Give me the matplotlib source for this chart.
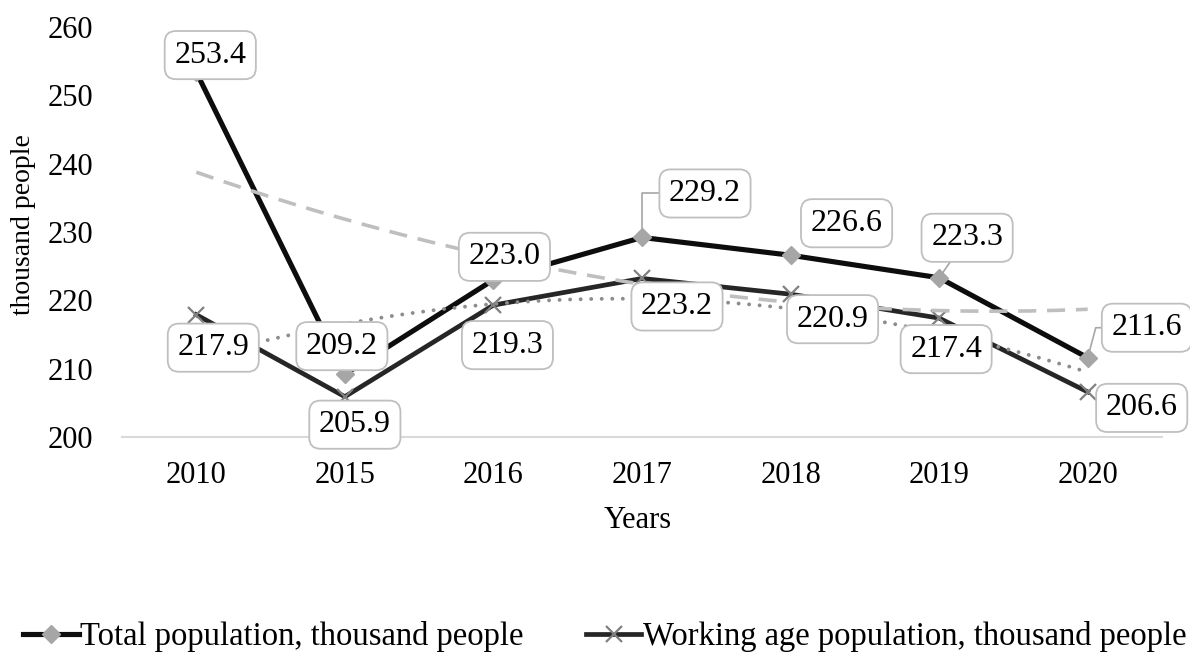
import numpy as np
import matplotlib
matplotlib.use('Agg')
import matplotlib.pyplot as plt

# ---- data ----
years = ['2010', '2015', '2016', '2017', '2018', '2019', '2020']
total = [253.4, 209.2, 223.0, 229.2, 226.6, 223.3, 211.6]
working = [217.9, 205.9, 219.3, 223.2, 220.9, 217.4, 206.6]
y_ticks = [200, 210, 220, 230, 240, 250, 260]
total_name = 'Total population, thousand people'
working_name = 'Working age population, thousand people'

# ---- label placement (pixel offsets from the point) ----
tot_off = [(14, 17), (-3, 28), (11, 23), (63, 44), (56, 32), (28, 40), (59, 30)]
wrk_off = [(17, -33), (10, -28), (14, -40), (35, -28), (42, -25), (7, -31), (54, -16)]
tot_leader = ['', '', '', 'angle,angleA=0,angleB=90,rad=0', '', 'arc3',
              'angle,angleA=0,angleB=75,rad=0']
wrk_leader = ['', '', '', '', '', '', '']

plt.rcParams['font.family'] = ['Liberation Serif', 'DejaVu Serif']

W, H = 1190, 659
fig = plt.figure(figsize=(W / 100, H / 100), dpi=100)
ax = fig.add_axes([122 / W, 1 - 437 / H, 1040 / W, 410 / H])

x = np.arange(len(years))
l1, = ax.plot(x, total, color='#0d0d0d', lw=3.7, marker='D', ms=9,
              mfc='#a6a6a6', mec='#a6a6a6', zorder=3, label=total_name)
l2, = ax.plot(x, working, color='#262626', lw=3.4, marker='x', ms=12,
              mec='#808080', mew=1.6, zorder=3, label=working_name)

# polynomial (order 2) trend lines
xf = np.linspace(0, len(years) - 1, 300)
ct = np.polyfit(x, total, 2)
cw = np.polyfit(x, working, 2)
ax.plot(xf, np.polyval(ct, xf), color='#bfbfbf', lw=2.6, ls=(0, (5, 3)), zorder=4)
ax.plot(xf, np.polyval(cw, xf), color='#8c8c8c', lw=2.8, ls=(0, (0.01, 2.7)),
        dash_capstyle='round', zorder=4)

box = dict(boxstyle='round,pad=0.3,rounding_size=0.35', fc='white', ec='#bfbfbf', lw=1.3)


def add_labels(vals, offs, leaders):
    for i, (v, o, ld) in enumerate(zip(vals, offs, leaders)):
        ap = None
        if ld:
            ap = dict(arrowstyle='-', color='#a6a6a6', lw=1.2, shrinkA=0, shrinkB=4,
                      connectionstyle=ld)
        ax.annotate(f'{v:.1f}', xy=(x[i], v), xytext=o, textcoords='offset pixels',
                    ha='center', va='center', fontsize=23, color='black',
                    bbox=box, arrowprops=ap, zorder=6, annotation_clip=False)


add_labels(total, tot_off, tot_leader)
add_labels(working, wrk_off, wrk_leader)

ax.set_xlim(-0.5, len(years) - 0.5)
ax.set_ylim(200, 260)
ax.set_xticks(x)
ax.set_xticklabels(years)
ax.set_yticks(y_ticks)
ax.tick_params(axis='both', length=0, labelsize=22, colors='black')
ax.tick_params(axis='x', pad=17)
ax.tick_params(axis='y', pad=21)
for s in ['top', 'right', 'left']:
    ax.spines[s].set_visible(False)
ax.spines['bottom'].set_color('#d9d9d9')
ax.spines['bottom'].set_linewidth(1.5)

fig.text(24 / W, 1 - 225 / H, 'thousand people', rotation=90, ha='center', va='center',
         fontsize=20)
fig.text(638 / W, 1 - 521 / H, 'Years', ha='center', va='center', fontsize=22)

fig.legend(handles=[l1, l2], loc='center', bbox_to_anchor=(605 / W, 1 - 637 / H), ncol=2,
           frameon=False, fontsize=23.5, handlelength=1.7, handletextpad=0.05,
           columnspacing=1.9, numpoints=1, borderaxespad=0)

fig.savefig('out.png', dpi=100)
